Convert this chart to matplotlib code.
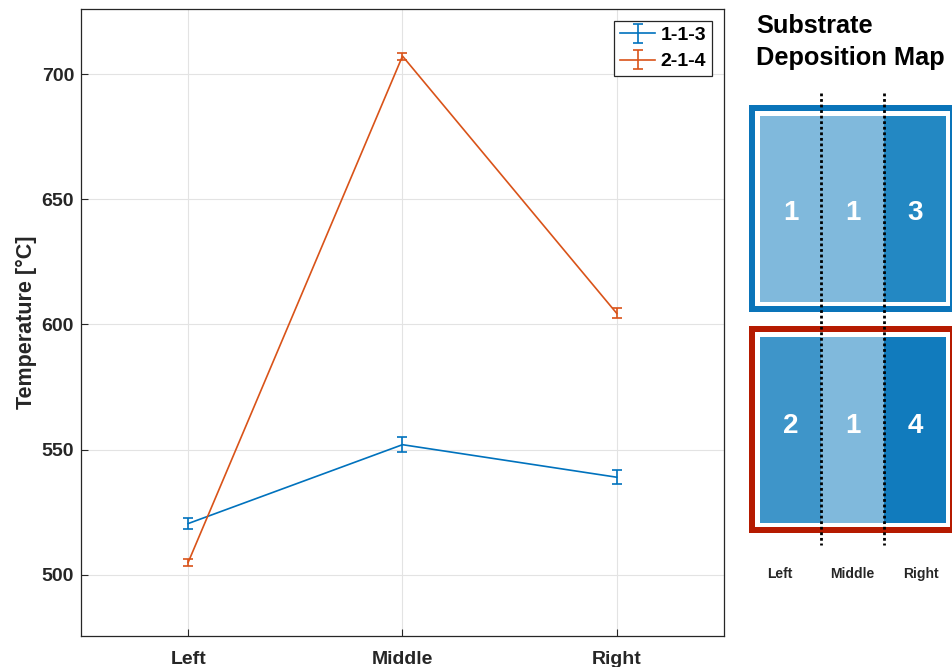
import numpy as np
import matplotlib.pyplot as plt
from matplotlib.patches import Rectangle

plt.rcParams['font.family'] = ['Liberation Sans', 'DejaVu Sans']

positions = ['Left', 'Middle', 'Right']
temp_113 = [520.5, 552.0, 539.0]
err_113 = [2.2, 3.0, 2.8]
temp_214 = [505.0, 707.2, 604.4]
err_214 = [1.4, 1.4, 2.0]

# substrate map: number of layers deposited in each region
map_113 = [1, 1, 3]
map_214 = [2, 1, 4]
tile_colors = {1: '#80b9dc', 2: '#3e95c9', 3: '#2388c3', 4: '#117bbd'}

blue = '#0072BD'
orange = '#D95319'
txt = '#262626'

fig = plt.figure(figsize=(9.53, 6.67), dpi=100)
ax = fig.add_axes([0.085, 0.0465, 0.6747, 0.940])

x = np.arange(1, len(positions) + 1)
ax.errorbar(x, temp_113, yerr=err_113, color=blue, lw=1.2, capsize=3.5,
            elinewidth=1.2, capthick=1.2, label='1-1-3')
ax.errorbar(x, temp_214, yerr=err_214, color=orange, lw=1.2, capsize=3.5,
            elinewidth=1.2, capthick=1.2, label='2-1-4')

ax.set_xlim(0.5, 3.5)
ax.set_ylim(475.6, 726)
ax.set_xticks(x)
ax.set_xticklabels(positions)
ax.set_yticks([500, 550, 600, 650, 700])
ax.grid(True, color='#e3e3e3', lw=0.8)
ax.set_axisbelow(True)
ax.tick_params(direction='in', length=5, color=txt, labelcolor=txt, labelsize=14)
ax.tick_params(axis='x', pad=11)
ax.tick_params(axis='y', pad=5)
for lab in ax.get_xticklabels() + ax.get_yticklabels():
    lab.set_fontweight('bold')
for s in ax.spines.values():
    s.set_color(txt)
    s.set_linewidth(0.9)
ax.set_ylabel('Temperature [°C]', fontsize=15.5, fontweight='bold', color=txt, labelpad=3)

leg = ax.legend(loc='upper right', fancybox=False, framealpha=1, edgecolor=txt,
                prop={'weight': 'bold', 'size': 14}, handlelength=1.8,
                borderaxespad=0.6, labelspacing=0.45, handletextpad=0.3,
                borderpad=0.3)
leg.get_frame().set_linewidth(0.9)

# right-hand schematic drawn in pixel coordinates
dax = fig.add_axes([0, 0, 1, 1])
dax.set_xlim(0, 953)
dax.set_ylim(667, 0)
dax.axis('off')

dax.text(756, 42, 'Substrate\nDeposition Map', fontsize=18.3, fontweight='bold',
         color='black', va='center', ha='left', linespacing=1.37)

tile_x = [760, 821, 884]
tile_w = [61, 63, 62]
rows = [(map_113, 105, '#0a74b9', 108), (map_214, 326, '#b51a00', 100)]
for values, top, frame_col, num_y in rows:
    dax.add_patch(Rectangle((749, top), 204, 207, facecolor=frame_col, edgecolor='none'))
    dax.add_patch(Rectangle((755, top + 6), 195, 195, facecolor='white', edgecolor='none'))
    for v, tx, tw in zip(values, tile_x, tile_w):
        dax.add_patch(Rectangle((tx, top + 11), tw, 186, facecolor=tile_colors[v],
                                edgecolor='none'))
        dax.text(tx + tw / 2, top + num_y, str(v), color='white', fontsize=20,
                 fontweight='bold', ha='center', va='center')

for dx in [821, 884]:
    dax.plot([dx, dx], [93, 545], color='black', lw=2, ls=(0, (1, 1)))

for lab, cx in zip(positions, [780, 852, 921]):
    dax.text(cx, 574, lab, fontsize=10, fontweight='bold', color=txt,
             ha='center', va='center')

fig.savefig('out.png', dpi=100)
